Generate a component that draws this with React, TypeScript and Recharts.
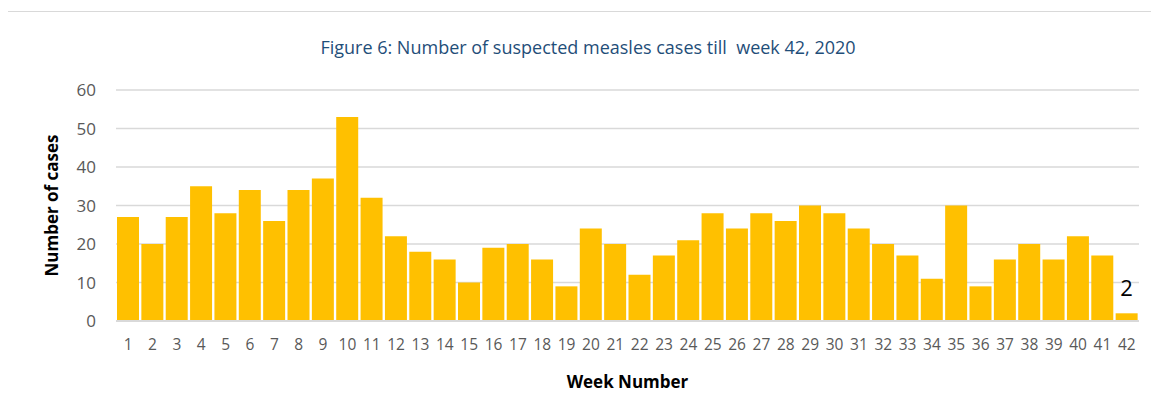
import { BarChart, Bar, XAxis, YAxis, CartesianGrid, Label } from 'recharts'

const weeks = [
  '1', '2', '3', '4', '5', '6', '7', '8', '9', '10', '11', '12', '13', '14',
  '15', '16', '17', '18', '19', '20', '21', '22', '23', '24', '25', '26', '27', '28',
  '29', '30', '31', '32', '33', '34', '35', '36', '37', '38', '39', '40', '41', '42',
]

const cases = [
  27, 20, 27, 35, 28, 34, 26, 34, 37, 53, 32, 22, 18, 16,
  10, 19, 20, 16, 9, 24, 20, 12, 17, 21, 28, 24, 28, 26,
  30, 28, 24, 20, 17, 11, 30, 9, 16, 20, 16, 22, 17, 2,
]

const yTicks = [0, 10, 20, 30, 40, 50, 60]

const chartData = weeks.map((week, i) => ({ week, cases: cases[i] }))

const FONT = '"Open Sans", sans-serif'

// only the last week carries a data label in the original figure
const renderLastLabel = (props: any) => {
  const { x, y, width, index, value } = props
  if (index !== chartData.length - 1) return null
  return (
    <text
      x={Number(x) + Number(width) / 2}
      y={Number(y) - 17}
      textAnchor="middle"
      fontSize={22}
      fontFamily={FONT}
      fill="#000"
    >
      {value}
    </text>
  )
}

export default function App() {
  return (
    <div
      style={{
        position: 'relative',
        width: 1160,
        height: 410,
        marginLeft: -1,
        marginTop: 3,
        border: '1px solid #D9D9D9',
        fontFamily: FONT,
      }}
    >
      <div
        style={{
          position: 'absolute',
          top: 23,
          left: 0,
          width: 1160,
          textAlign: 'center',
          fontSize: 18,
          color: '#1F4E79',
        }}
      >
        Figure 6: Number of suspected measles cases till&nbsp; week 42, 2020
      </div>
      <BarChart
        width={1142}
        height={400}
        data={chartData}
        margin={{ top: 78, right: 11, left: 0, bottom: 0 }}
        barCategoryGap={1}
      >
        <CartesianGrid vertical={false} stroke="#D9D9D9" strokeWidth={1.5} />
        <XAxis
          dataKey="week"
          height={91}
          tickLine={false}
          axisLine={{ stroke: '#D9D9D9', strokeWidth: 2 }}
          tickMargin={12}
          interval={0}
          tick={{ fontSize: 15.5, fill: '#595959', fontFamily: FONT }}
        >
          <Label
            value="Week Number"
            position="insideBottom"
            offset={24}
            style={{ fontSize: 17, fontWeight: 700, fill: '#000', fontFamily: FONT }}
          />
        </XAxis>
        <YAxis
          width={108}
          domain={[0, 60]}
          ticks={yTicks}
          tickLine={false}
          axisLine={false}
          tickMargin={14}
          tick={{ fontSize: 17, fill: '#595959', fontFamily: FONT }}
        >
          <Label
            value="Number of cases"
            angle={-90}
            position="insideLeft"
            offset={44}
            style={{ fontSize: 17, fontWeight: 700, fill: '#000', fontFamily: FONT, textAnchor: 'middle' }}
          />
        </YAxis>
        <Bar
          dataKey="cases"
          fill="#FFC000"
          isAnimationActive={false}
          label={renderLastLabel}
        />
      </BarChart>
    </div>
  )
}
